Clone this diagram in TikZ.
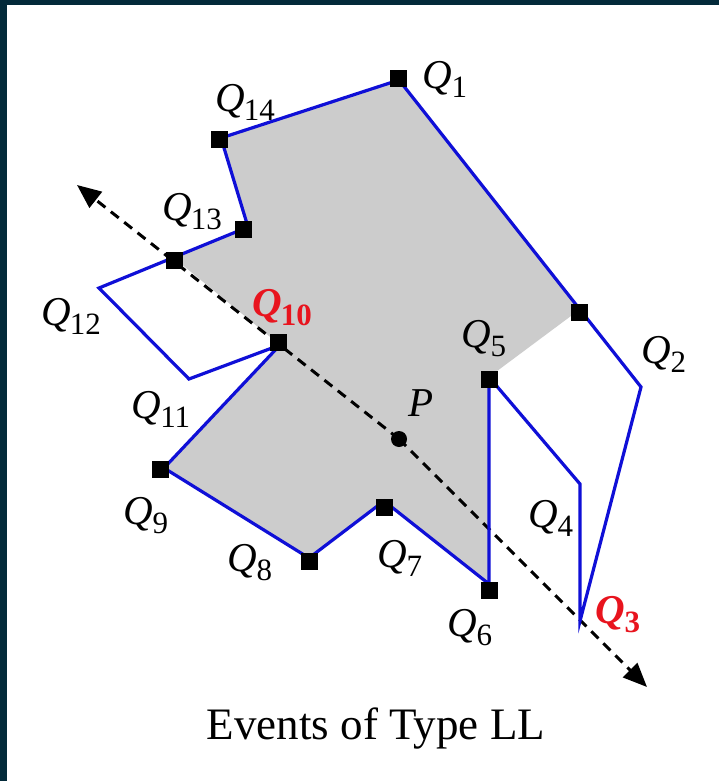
\documentclass[tikz,border=0pt]{standalone}
\usepackage{fontspec}
\setmainfont{Liberation Serif}
\usetikzlibrary{arrows.meta}
\definecolor{frame}{RGB}{3,42,58}
\definecolor{greyfill}{RGB}{204,204,204}
\definecolor{edge}{RGB}{15,15,215}
\definecolor{hot}{RGB}{232,20,30}
\newcommand{\qlab}[1]{\fontsize{20.5}{24}\selectfont\textit{Q}\kern-0.5pt\raisebox{-4.5pt}{\fontsize{15.5}{18}\selectfont #1}}
\newcommand{\qhot}[1]{\fontsize{20.5}{24}\selectfont\textbf{\textit{Q}}\kern-0.5pt\raisebox{-4.5pt}{\fontsize{15.5}{18}\selectfont\bfseries #1}}
\begin{document}
\begin{tikzpicture}[x=0.5pt,y=-0.5pt,
  sq/.style={rectangle,fill=black,minimum size=8.5pt,inner sep=0pt},
  lab/.style={inner sep=0pt,anchor=center,text=black},
  hotlab/.style={inner sep=0pt,anchor=center,text=hot},
  poly/.style={draw=edge,line width=1.6pt,line join=miter},
  axisray/.style={line width=1.5pt,dash pattern=on 5pt off 3.5pt,-{Triangle[length=12pt,width=10pt]}},
  dot/.style={circle,fill=black,minimum size=8pt,inner sep=0pt}]
\fill[frame] (0,0) rectangle (719,781);
\fill[white] (7,5) rectangle (719,781);
\useasboundingbox (0,0) rectangle (719,781);
% vertices
\coordinate (Q1) at (399,80);
\coordinate (S2) at (579,310);
\coordinate (Q2) at (641,387);
\coordinate (Q3) at (580,621);
\coordinate (Q4) at (580,484);
\coordinate (Q5) at (489,377);
\coordinate (Q6) at (489,584);
\coordinate (Q7) at (384,501);
\coordinate (Q8) at (309,558);
\coordinate (Q9) at (164,468);
\coordinate (Q10) at (280,345);
\coordinate (Q11) at (189,379);
\coordinate (Q12) at (99,288);
\coordinate (S12) at (174,258);
\coordinate (Q13) at (248,227);
\coordinate (Q14) at (221,138);
\coordinate (P) at (399,439);
\coordinate (TipA) at (77,185);
\coordinate (TipB) at (647,687);
% visible region
\fill[greyfill] (Q1) -- (S2) -- (Q5) -- (Q6) -- (Q7) -- (Q8) -- (Q9) -- (Q10) -- (S12) -- (Q13) -- (Q14) -- cycle;
% axis
\draw[axisray] (P) -- (TipA);
\draw[axisray] (P) -- (TipB);
% polygon
\draw[poly] (Q1) -- (Q2) -- (Q3) -- (Q4) -- (Q5) -- (Q6) -- (Q7) -- (Q8) -- (Q9) -- (Q10) -- (Q11) -- (Q12) -- (Q13) -- (Q14) -- cycle;
% squares
\node[sq] (m1) at (398,79) {};
\node[sq] (m14) at (219,139) {};
\node[sq] (m13) at (243,229) {};
\node[sq] (m12) at (174,260) {};
\node[sq] (m10) at (278,342) {};
\node[sq] (m9) at (160,469) {};
\node[sq] (m8) at (309,561) {};
\node[sq] (m7) at (384,507) {};
\node[sq] (m6) at (489,590) {};
\node[sq] (m5) at (489,379) {};
\node[sq] (m2) at (579,312) {};
\node[dot] (pdot) at (P) {};
% labels
\node[lab] (l1) at (445,79) {\qlab{1}};
\node[lab] (l14) at (245,102) {\qlab{14}};
\node[lab] (l13) at (192,212) {\qlab{13}};
\node[lab] (l12) at (71,316) {\qlab{12}};
\node[hotlab] (l10) at (282,308) {\qhot{10}};
\node[lab] (l11) at (161,409) {\qlab{11}};
\node[lab] (l9) at (146,516) {\qlab{9}};
\node[lab] (l8) at (250,563) {\qlab{8}};
\node[lab] (l7) at (400,558) {\qlab{7}};
\node[lab] (l6) at (470,628) {\qlab{6}};
\node[lab] (l5) at (484,339) {\qlab{5}};
\node[lab] (l4) at (551,518) {\qlab{4}};
\node[hotlab] (l3) at (618,615) {\qhot{3}};
\node[lab] (l2) at (664,354) {\qlab{2}};
\node[lab] (lp) at (421,403) {\fontsize{20.5}{24}\selectfont\textit{P}};
\node[lab] (cap) at (376,729) {\fontsize{22.5}{27}\selectfont Events of Type LL};
\end{tikzpicture}
\end{document}
